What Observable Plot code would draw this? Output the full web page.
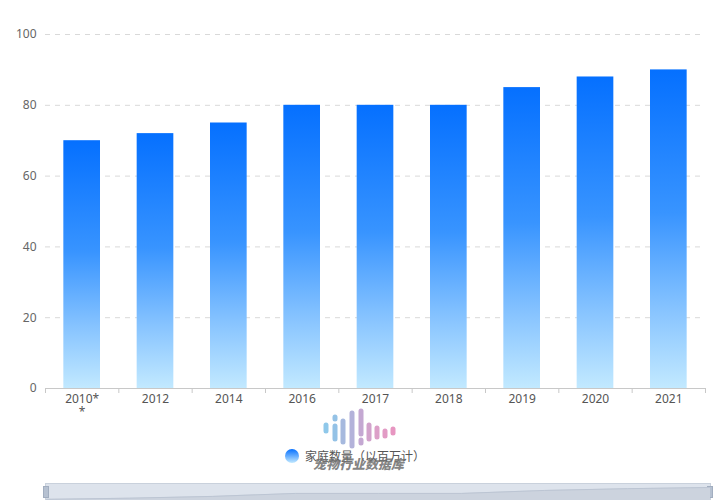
<!DOCTYPE html>
<html>
<head>
<meta charset="utf-8">
<script src="https://cdn.jsdelivr.net/npm/d3@7"></script>
<script src="https://cdn.jsdelivr.net/npm/@observablehq/plot@0.6"></script>
<style>
  body { margin: 0; background: #fff; font-family: "Noto Sans", "Noto Sans CJK SC", sans-serif; }
  #wrap { position: relative; width: 720px; height: 500px; overflow: hidden; }
  #legend { position: absolute; top: 447px; left: 285px; display: flex; align-items: center; font-size: 12px; color: #555; font-family: "Noto Sans CJK SC", sans-serif; }
  #legend .dot { width: 14px; height: 14px; border-radius: 50%; background: linear-gradient(#0570ff, #c2e9ff); margin-right: 6px; }
  #wm { position: absolute; left: 318px; top: 406px; pointer-events: none; }
  #wmtext { position: absolute; left: 313px; top: 454px; font-family: "Noto Sans CJK SC", sans-serif; font-weight: 900; font-style: italic; font-size: 13px; color: rgba(110,110,110,0.85); pointer-events: none; }
  #slider { position: absolute; left: 45px; top: 483px; width: 666px; height: 24px; background: #dde3ec; border: 1px solid #c9d1dc; box-sizing: border-box; }
  #slider .h { position: absolute; top: 2px; width: 4px; height: 10px; background: #b6c1d1; border: 1px solid #a2aec0; }
</style>
</head>
<body>
<div id="wrap">
  <div id="chart"></div>
  <div id="legend"><span class="dot"></span><span>家庭数量（以百万计）</span></div>
  <svg id="wm" width="90" height="44">
    <g stroke-linecap="round" stroke-width="5" fill="none">
      <line x1="8" y1="19" x2="8" y2="25" stroke="#8fc8ea"/>
      <line x1="17" y1="11" x2="17" y2="13" stroke="#94c2e6"/>
      <line x1="17" y1="20" x2="17" y2="33" stroke="#94c2e6"/>
      <line x1="25" y1="15" x2="25" y2="36" stroke="#a6b9de"/>
      <line x1="34" y1="7" x2="34" y2="40" stroke="#b3b2da"/>
      <line x1="43" y1="5" x2="43" y2="28" stroke="#c4a8d2"/>
      <line x1="43" y1="34" x2="43" y2="37" stroke="#c4a8d2"/>
      <line x1="51" y1="19" x2="51" y2="33" stroke="#d2a2cb"/>
      <line x1="59" y1="22" x2="59" y2="31" stroke="#dc9fc8"/>
      <line x1="67" y1="25" x2="67" y2="30" stroke="#e29bc5"/>
      <line x1="75" y1="23" x2="75" y2="27" stroke="#e796c1"/>
    </g>
  </svg>
  <div id="wmtext">宠物行业数据库</div>
  <div id="slider"><div id="shadow"></div><div class="h" style="left:-3px"></div><div class="h" style="right:-3px"></div></div>
</div>
<script>
const categories = ["2010**", "2012", "2014", "2016", "2017", "2018", "2019", "2020", "2021"];
const households = [70, 72, 75, 80, 80, 80, 85, 88, 90];
const yTicks = [0, 20, 40, 60, 80, 100];
const seriesName = "家庭数量（以百万计）";

const data = categories.map((c, i) => ({year: c, value: households[i]}));

const W = 720, H = 425, ML = 45, MR = 15;
const step = (W - ML - MR) / categories.length;

const chart = Plot.plot({
  width: W,
  height: H,
  marginLeft: ML,
  marginRight: MR,
  marginTop: 34,
  marginBottom: 37,
  style: {fontFamily: '"Noto Sans", "Noto Sans CJK SC", sans-serif', fontSize: "12px", color: "#666", background: "transparent"},
  x: {domain: categories, paddingInner: 0.5, paddingOuter: 0.25, round: false, label: null},
  y: {domain: [0, 100], label: null},
  marks: [
    Plot.gridY(yTicks.filter(d => d > 0), {stroke: "#d9d9d9", strokeOpacity: 1, strokeDasharray: "5,5"}),
    Plot.axisY(yTicks, {tickSize: 0, tickPadding: 9, fill: "#666", label: null}),
    Plot.barY(data, {x: "year", y: "value", fill: "url(#barGrad)"}),
    Plot.ruleY([0], {stroke: "#c8c8c8"}),
    Plot.axisX({tickSize: 0, tickPadding: 6, fill: "#555", label: null, tickFormat: d => d.endsWith("**") ? d.slice(0, -1) + "\n*" : d, lineHeight: 1.05}),
    Plot.axisX({tickSize: 5, text: null, dx: -step / 2, stroke: "#c8c8c8", label: null}),
    Plot.axisX([categories[categories.length - 1]], {tickSize: 5, text: null, dx: step / 2, stroke: "#c8c8c8", label: null})
  ]
});

const defs = d3.select(chart).insert("defs", ":first-child");
const g = defs.append("linearGradient").attr("id", "barGrad").attr("x1", 0).attr("y1", 0).attr("x2", 0).attr("y2", 1);
[[0, "#0570ff"], [0.45, "#3894ff"], [0.75, "#86c3ff"], [1, "#c2e9ff"]].forEach(([o, c]) =>
  g.append("stop").attr("offset", o).attr("stop-color", c));

document.getElementById("chart").appendChild(chart);

// data shadow in the zoom slider
const shadow = Plot.plot({
  width: 664, height: 22, margin: 0,
  x: {domain: categories, type: "point", padding: 0, axis: null},
  y: {domain: [58, 95], axis: null},
  style: {background: "transparent"},
  marks: [
    Plot.areaY(data, {x: "year", y1: 58, y2: "value", fill: "#ccd3de", curve: "linear"}),
    Plot.lineY(data, {x: "year", y: "value", stroke: "#bcc5d3", strokeWidth: 1})
  ]
});
shadow.style.position = "absolute"; shadow.style.left = "0"; shadow.style.top = "0";
document.getElementById("slider").appendChild(shadow);
</script>
</body>
</html>
